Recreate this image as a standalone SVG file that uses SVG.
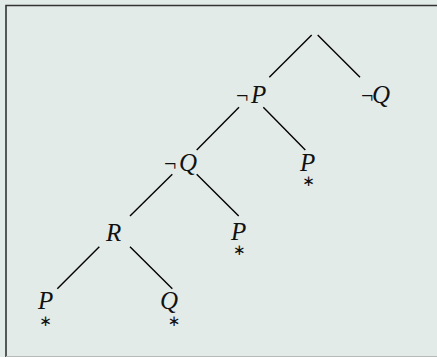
<svg xmlns="http://www.w3.org/2000/svg" width="437" height="357" viewBox="0 0 437 357">
<style>
.lbl{font-family:"Liberation Serif","DejaVu Serif",serif;font-size:25px;fill:#111}
.it{font-style:italic}
.neg{font-size:22px}
.ast{font-family:"DejaVu Sans",sans-serif;font-size:15px;fill:#111;text-anchor:middle}
.edge{stroke:#000;stroke-width:1.4;fill:none}
</style>
<rect x="0" y="0" width="437" height="357" fill="#e3ebe8"/>
<path d="M6,357 V5.5 H437" fill="none" stroke="#333" stroke-width="1.6"/>
<line x1="6" y1="356.5" x2="437" y2="356.5" stroke="#b5bab8" stroke-width="1.2"/>
<g id="connectors">
<line class="edge" x1="311.7" y1="35" x2="269.3" y2="77.3"/>
<line class="edge" x1="317.7" y1="35" x2="360" y2="77.3"/>
<line class="edge" x1="239" y1="107.3" x2="196.7" y2="150"/>
<line class="edge" x1="263.3" y1="107.3" x2="305.3" y2="150"/>
<line class="edge" x1="172.3" y1="174.3" x2="130" y2="216"/>
<line class="edge" x1="196.7" y1="174.3" x2="238.7" y2="216"/>
<line class="edge" x1="99.3" y1="246.7" x2="57.3" y2="288.7"/>
<line class="edge" x1="130" y1="246.7" x2="172.3" y2="288.7"/>
</g>
<g id="n-notP"><text class="lbl" x="236" y="103"><tspan class="neg">¬</tspan><tspan class="it" x="251">P</tspan></text></g>
<g id="n-notQ-top"><text class="lbl" x="361" y="103"><tspan class="neg">¬</tspan><tspan class="it" x="372">Q</tspan></text></g>
<g id="n-notQ-mid"><text class="lbl" x="164" y="171"><tspan class="neg">¬</tspan><tspan class="it" x="179">Q</tspan></text></g>
<g id="n-P-right"><text class="lbl it" x="300" y="171">P</text><text class="ast" x="308.5" y="186">∗</text></g>
<g id="n-R"><text class="lbl it" x="106" y="241">R</text></g>
<g id="n-P-mid"><text class="lbl it" x="231" y="240">P</text><text class="ast" x="239.3" y="255">∗</text></g>
<g id="n-P-bot"><text class="lbl it" x="38" y="309">P</text><text class="ast" x="45.5" y="326">∗</text></g>
<g id="n-Q-bot"><text class="lbl it" x="160" y="309">Q</text><text class="ast" x="174" y="326">∗</text></g>
</svg>
